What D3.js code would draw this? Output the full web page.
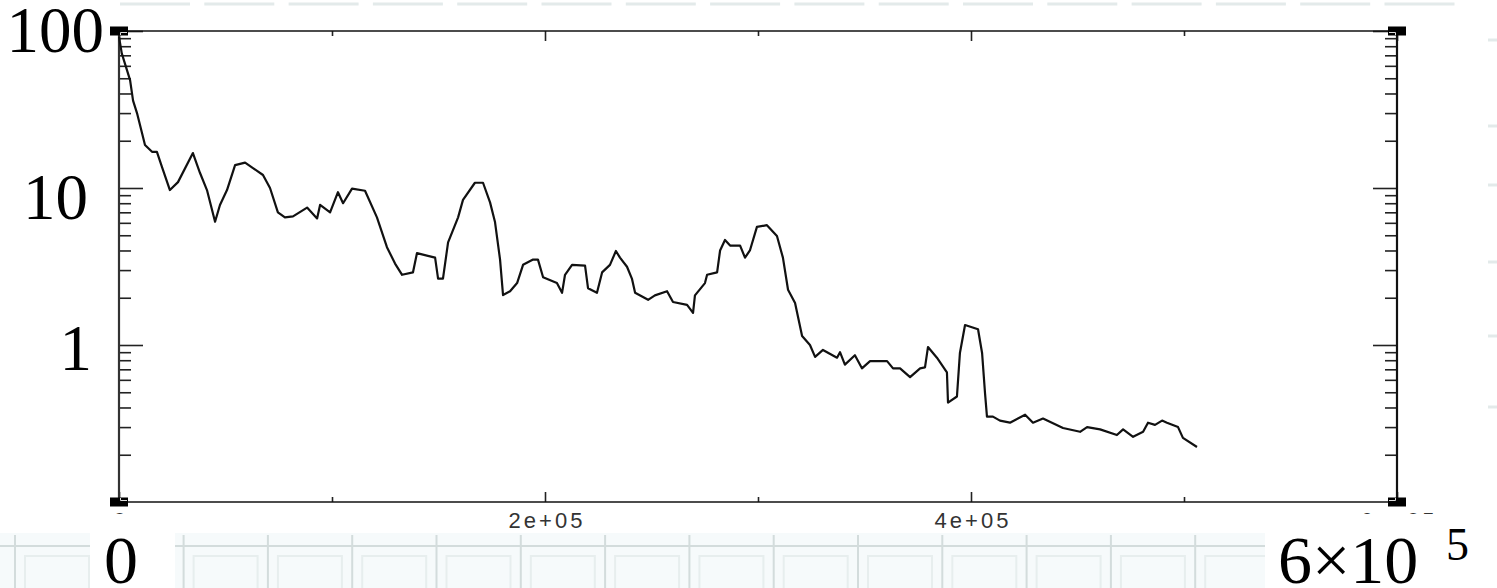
<!DOCTYPE html>
<html>
<head>
<meta charset="utf-8">
<title>Log profile</title>
<style>
html, body { margin:0; padding:0; background:#fff; }
svg { display:block; }
.curve { fill:none; stroke:#111; stroke-width:2.2px; stroke-linejoin:round; }
.axis path { display:none; }
.axis line { stroke:#222; stroke-width:1.6px; }
.axis text { font-family:'Liberation Sans', Arial, sans-serif; font-size:22px; fill:#333; letter-spacing:3px; }
.big { font-family:'Liberation Serif', 'Times New Roman', serif; fill:#000; }
.grid line { stroke:#d3dcdc; stroke-width:2px; }
.grid rect { fill:none; stroke:#e7eeee; stroke-width:2px; }
.marks line { stroke:#e3eaea; stroke-width:3px; }
</style>
</head>
<body>
<svg width="1497" height="588"></svg>
<script src="https://d3js.org/d3.v7.min.js"></script>
<script>
// position along the profile and the value read at that position
var xPos = [0,1300,5200,6600,8450,10800,12200,15500,17800,20200,
  23900,27700,34700,38000,41300,45100,47400,50700,54500,59200,
  62900,67600,70900,74600,77900,81700,88300,93000,94400,99100,
  102800,105200,109400,115500,121100,125800,129600,132900,138000,139900,
  148400,149800,152100,154500,159200,161500,167100,170900,174200,176500,
  178900,180300,183600,186900,189700,194400,196700,199100,205600,208000,
  209400,212700,218800,220200,224400,226800,230500,233300,235200,238500,
  240800,242300,248400,251600,257300,260100,266700,269500,270400,275100,
  276100,280800,282200,284500,286900,291600,293900,296200,299500,304200,
  308900,311700,314100,317400,320700,324400,326800,330500,337100,338500,
  340800,345500,348800,352600,360600,363400,366700,371400,376100,378400,
  379800,384000,388700,389200,393400,394800,397200,403300,405200,406600,
  407500,410300,413600,418300,425400,429100,433800,443200,451200,454500,
  460600,468500,471400,476100,480800,483100,486400,489700,492000,497200,
  499500,506100];

var yVal = [92,72,48.7,36,30,22.4,18.8,17,17,13.6,
  9.7,10.9,16.7,12.5,9.7,6.1,7.8,9.7,14,14.5,
  13.4,12.1,10,7.0,6.5,6.6,7.5,6.4,7.8,7.0,
  9.4,8.0,9.9,9.6,6.5,4.2,3.3,2.8,2.9,3.85,
  3.6,2.65,2.65,4.5,6.5,8.4,10.8,10.8,8.1,6.1,
  3.5,2.08,2.2,2.48,3.24,3.5,3.5,2.7,2.48,2.15,
  2.8,3.24,3.2,2.3,2.15,2.9,3.24,3.97,3.6,3.15,
  2.65,2.15,1.94,2.07,2.2,1.88,1.8,1.6,2.07,2.48,
  2.8,2.9,4.0,4.67,4.3,4.3,3.6,4.0,5.65,5.8,
  4.95,3.6,2.25,1.85,1.14,1.0,0.84,0.93,0.83,0.9,
  0.75,0.86,0.71,0.79,0.79,0.71,0.71,0.625,0.71,0.72,
  0.97,0.83,0.67,0.43,0.47,0.89,1.34,1.26,0.89,0.49,
  0.35,0.35,0.33,0.32,0.36,0.32,0.34,0.296,0.28,0.30,
  0.29,0.267,0.29,0.26,0.28,0.32,0.31,0.33,0.32,0.30,
  0.256,0.224];

var xMajor = [0, 2e5, 4e5, 6e5],
    xMinor = [1e5, 3e5, 5e5],
    yMajor = [1, 10, 100],
    yLabels = ["100", "10", "1"];

var svg = d3.select("svg"),
    W = +svg.attr("width"),
    H = +svg.attr("height");

var x = d3.scaleLinear().domain([0, 6e5]).range([119, 1397]);
var y = d3.scaleLog().domain([0.1, 100]).range([502, 31]);

// slide background: grid only shows in the band under the plot
svg.append("rect").attr("width", W).attr("height", H).attr("fill", "#fff");
svg.append("rect").attr("y", 533).attr("width", W).attr("height", H - 533).attr("fill", "#f6fafb");
var grid = svg.append("g").attr("class", "grid");
d3.range(15, W, 84.3).forEach(function(gx) {
  grid.append("line").attr("x1", gx).attr("x2", gx).attr("y1", 535).attr("y2", H);
  grid.append("rect").attr("x", gx + 10).attr("y", 556).attr("width", 64).attr("height", 40);
});
grid.append("line").attr("x1", 0).attr("x2", W).attr("y1", 546).attr("y2", 546);

// faint bits of the grid peeking out at the top and right
var marks = svg.append("g").attr("class", "marks");
d3.range(120, 1420, 84.3).forEach(function(gx) {
  marks.append("line").attr("x1", gx).attr("x2", gx + 70).attr("y1", 4).attr("y2", 4);
});
[40, 126, 185, 262, 336, 407].forEach(function(gy) {
  marks.append("line").attr("x1", 1488).attr("x2", 1497).attr("y1", gy).attr("y2", gy);
});

var x0 = x.range()[0], x1 = x.range()[1], y0 = y.range()[1], y1 = y.range()[0];

var minorY = y.ticks().filter(function(v) { return yMajor.indexOf(v) < 0 && v > 0.1 && v < 100; });
var fmt = function(d) { return d === 0 ? "0" : d3.format(".0e")(d).replace(/e\+(\d)$/, "e+0$1"); };

// bottom axis with labels
svg.append("g").attr("class", "axis").attr("transform", "translate(0," + y1 + ")")
  .call(d3.axisBottom(x).tickValues(xMajor).tickSize(-10).tickPadding(10).tickFormat(fmt))
  .selectAll("text").attr("dx", 1.5);
svg.append("g").attr("class", "axis").attr("transform", "translate(0," + y1 + ")")
  .call(d3.axisBottom(x).tickValues(xMinor).tickSize(-5).tickFormat(""));
// top axis
svg.append("g").attr("class", "axis").attr("transform", "translate(0," + y0 + ")")
  .call(d3.axisTop(x).tickValues(xMajor).tickSize(-10).tickFormat(""));
svg.append("g").attr("class", "axis").attr("transform", "translate(0," + y0 + ")")
  .call(d3.axisTop(x).tickValues(xMinor).tickSize(-5).tickFormat(""));
// left & right log axes
[[d3.axisLeft, x0], [d3.axisRight, x1]].forEach(function(a) {
  svg.append("g").attr("class", "axis").attr("transform", "translate(" + a[1] + ",0)")
    .call(a[0](y).tickValues(yMajor).tickSize(-24).tickFormat(""));
  svg.append("g").attr("class", "axis").attr("transform", "translate(" + a[1] + ",0)")
    .call(a[0](y).tickValues(minorY).tickSize(-12).tickFormat(""));
});

// frame
svg.append("line").attr("x1", x0).attr("x2", x1).attr("y1", y0).attr("y2", y0).attr("stroke", "#111").attr("stroke-width", 1.5);
svg.append("line").attr("x1", x0).attr("x2", x1).attr("y1", y1).attr("y2", y1).attr("stroke", "#111").attr("stroke-width", 1.5);
svg.append("line").attr("x1", x0).attr("x2", x0).attr("y1", y0).attr("y2", y1).attr("stroke", "#333").attr("stroke-width", 2.2);
svg.append("line").attr("x1", x1).attr("x2", x1).attr("y1", y0).attr("y2", y1).attr("stroke", "#111").attr("stroke-width", 2.2);

// the profile
var line = d3.line().x(function(d) { return x(d[0]); }).y(function(d) { return y(d[1]); });
svg.append("path").datum(d3.zip(xPos, yVal)).attr("class", "curve").attr("d", line);

// corner markers
[[x0, y0, 1, 1], [x1, y0, -1, 1], [x0, y1, 1, -1], [x1, y1, -1, -1]].forEach(function(c) {
  svg.append("rect").attr("x", c[0] - 9).attr("y", c[1] - 4.5).attr("width", 18).attr("height", 9).attr("fill", "#000");
  svg.append("polyline").attr("fill", "none").attr("stroke", "#ddd").attr("stroke-width", 1)
    .attr("points", [[c[0] + c[2] * 1.5, c[1] + c[3] * 4], [c[0] + c[2] * 1.5, c[1] + c[3] * 1.5], [c[0] + c[2] * 8, c[1] + c[3] * 1.5]].join(" "));
});

// slide text boxes lying over the plot picture
svg.append("rect").attr("x", 90).attr("y", 514).attr("width", 85).attr("height", 74).attr("fill", "#fff");
svg.append("rect").attr("x", 1265).attr("y", 514).attr("width", 232).attr("height", 74).attr("fill", "#fff");

var labelShift = [21, 31, 25], labelEnd = [104, 88, 92];
yLabels.forEach(function(t, i) {
  svg.append("text").attr("class", "big").attr("font-size", 65)
    .attr("text-anchor", "end").attr("x", labelEnd[i]).attr("y", y(+t) + labelShift[i]).text(t);
});
svg.append("text").attr("class", "big").attr("font-size", 68).attr("text-anchor", "middle")
  .attr("x", x(xMajor[0]) + 2).attr("y", 583).text("0");
svg.append("text").attr("class", "big").attr("font-size", 68).attr("x", 1278).attr("y", 583).text("6×10");
svg.append("text").attr("class", "big").attr("font-size", 46).attr("x", 1446).attr("y", 560).text("5");
</script>
</body>
</html>
